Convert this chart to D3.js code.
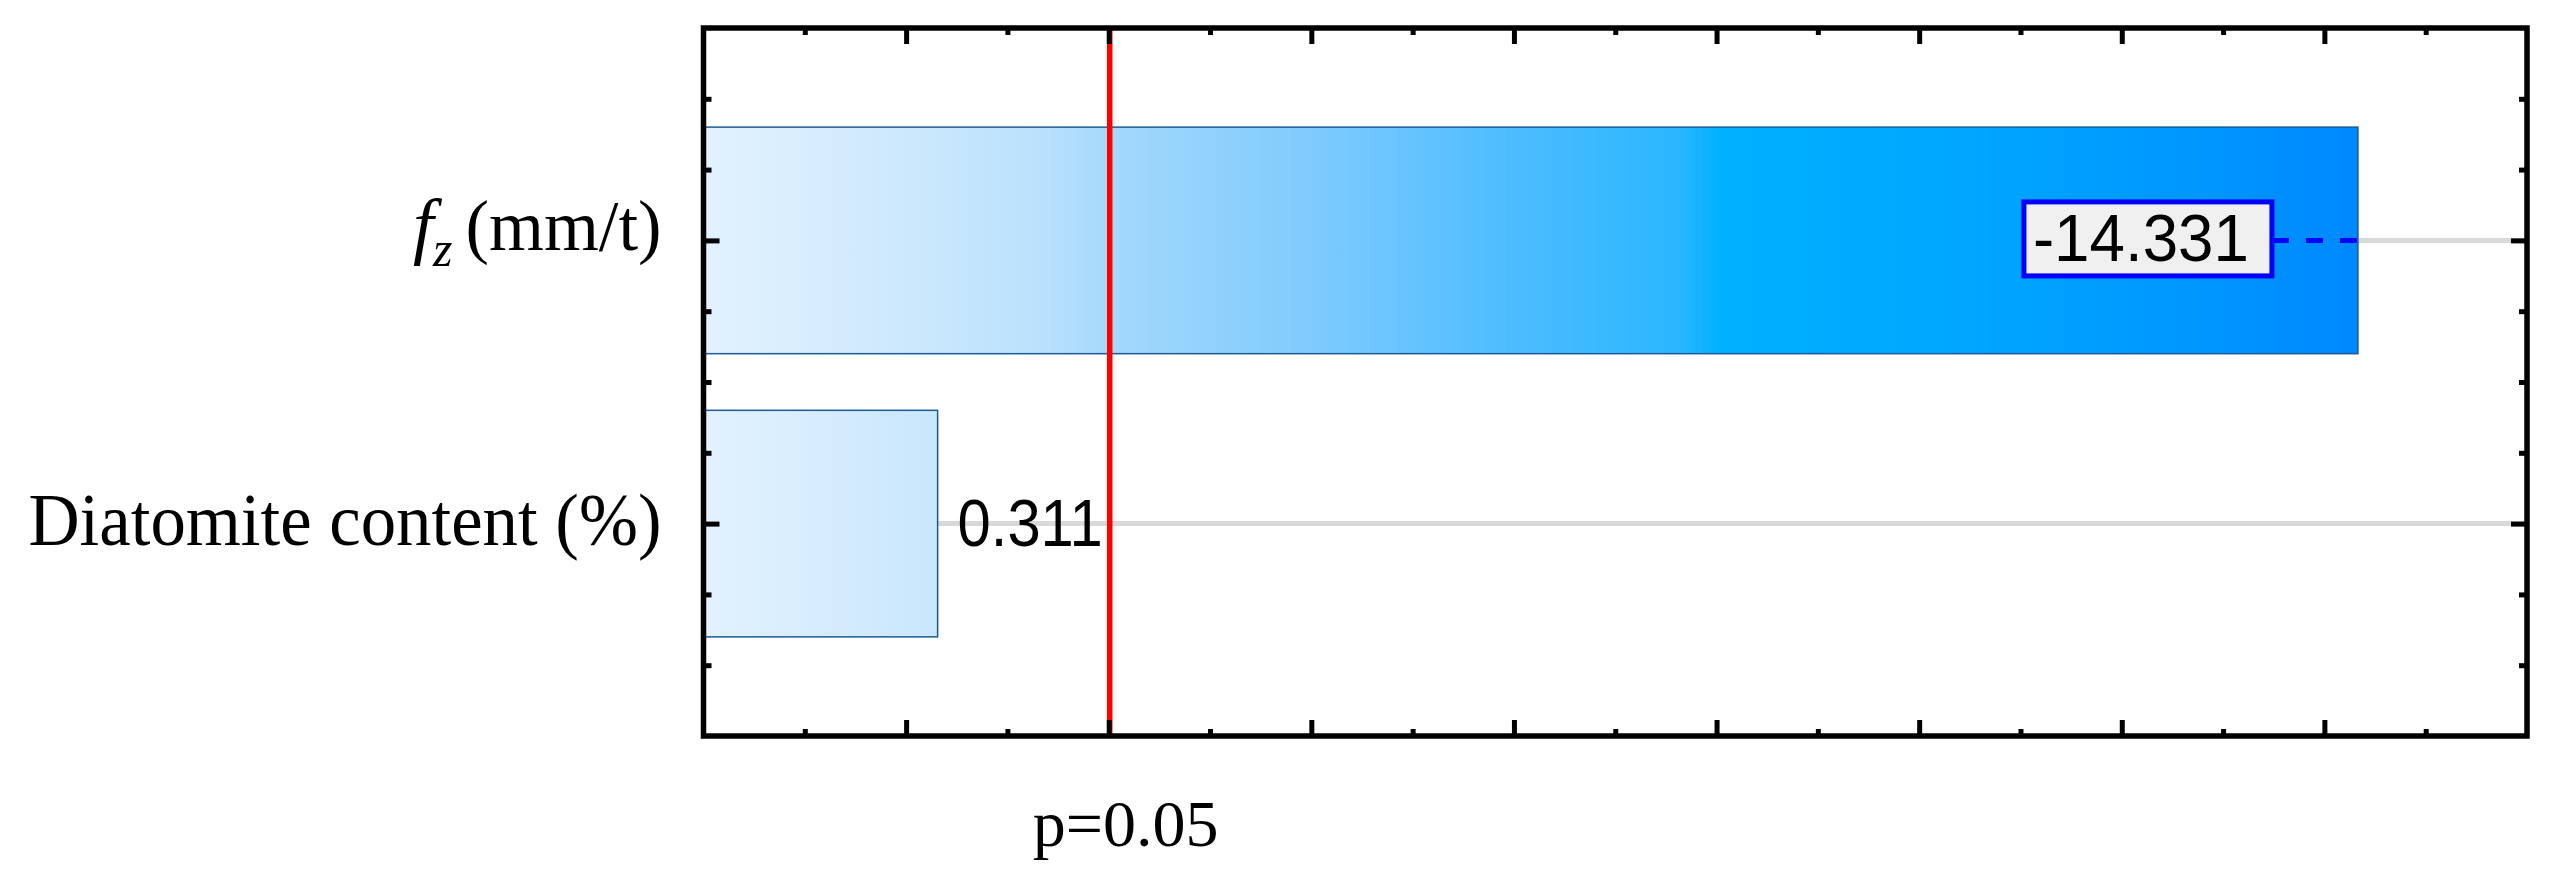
<!DOCTYPE html>
<html>
<head>
<meta charset="utf-8">
<script src="https://cdn.jsdelivr.net/npm/d3@7"></script>
<style>
  html, body { margin: 0; padding: 0; background: #ffffff; }
  svg { display: block; }
</style>
</head>
<body>
<svg id="chart" width="2560" height="888"></svg>
<script>
// ---------------- data ----------------
const categories = ["fz", "Diatomite content (%)"];
const effects = [-14.331, 0.311];
const valueLabels = ["-14.331", "0.311"];
const criticalValue = 2.01;
const criticalLabel = "p=0.05";
const xDomain = [-2, 16];
const xMajorTicks = [0, 2, 4, 6, 8, 10, 12, 14];
const xMinorTicks = [-1, 1, 3, 5, 7, 9, 11, 13, 15];
const yDomain = [0.25, 2.75];
const yMajorTicks = [1, 2];
const yMinorTicks = [0.5, 0.75, 1.25, 1.5, 1.75, 2.25, 2.5];

// ---------------- layout ----------------
const W = 2560, H = 888;
const plot = { left: 703.5, right: 2527, top: 28, bottom: 736 };
const svg = d3.select("#chart");
svg.append("rect").attr("width", W).attr("height", H).attr("fill", "#fff");

const x = d3.scaleLinear().domain(xDomain).range([plot.left, plot.right]);
const y = d3.scaleLinear().domain(yDomain).range([plot.top, plot.bottom]);
const catPos = i => y(i + 1);
const barHalf = (y(1.4) - y(1));

// gradient (user space across the plot)
const defs = svg.append("defs");
const maxAbs = d3.max(effects, d => Math.abs(d));
const grad = defs.append("linearGradient")
  .attr("id", "barGrad").attr("gradientUnits", "userSpaceOnUse")
  .attr("x1", x(xDomain[0])).attr("x2", x(maxAbs)).attr("y1", 0).attr("y2", 0);
[
  [0, "#e2f2fe"], [0.1, "#d1eafd"], [0.2, "#bbe2fc"], [0.25, "#a3d8fc"],
  [0.365, "#80cbfd"], [0.49, "#4cbcff"], [0.59, "#2bb6ff"], [0.615, "#00b0ff"],
  [0.745, "#00a8ff"], [0.895, "#0098ff"], [1, "#0088ff"]
].forEach(([o, c]) => grad.append("stop").attr("offset", o).attr("stop-color", c));

// grid lines at category centers
svg.append("g").selectAll("line").data(categories).join("line")
  .attr("x1", plot.left).attr("x2", plot.right)
  .attr("y1", (d, i) => catPos(i)).attr("y2", (d, i) => catPos(i))
  .attr("stroke", "#d9d9d9").attr("stroke-width", 5);

// bars
svg.append("g").selectAll("rect").data(effects).join("rect")
  .attr("x", x(xDomain[0]))
  .attr("width", d => x(Math.abs(d)) - x(xDomain[0]))
  .attr("y", (d, i) => catPos(i) - barHalf)
  .attr("height", barHalf * 2)
  .attr("fill", "url(#barGrad)")
  .attr("stroke", "#1b5a96").attr("stroke-width", 1.5);

// critical line
svg.append("line")
  .attr("x1", x(criticalValue)).attr("x2", x(criticalValue))
  .attr("y1", plot.top).attr("y2", plot.bottom)
  .attr("stroke", "#ff0000").attr("stroke-width", 5.5);

// axes ticks (inward) via d3 axes
function tickAxis(axisFn, scale, vals, size, transform) {
  const g = svg.append("g").attr("transform", transform)
    .call(axisFn(scale).tickValues(vals).tickSize(size).tickSizeOuter(0).tickFormat(""));
  g.select(".domain").remove();
  g.selectAll(".tick line").attr("stroke", "#000").attr("stroke-width", 5);
  return g;
}
tickAxis(d3.axisBottom, x, xMajorTicks, -16, `translate(0,${plot.bottom})`);
tickAxis(d3.axisBottom, x, xMinorTicks, -7, `translate(0,${plot.bottom})`);
tickAxis(d3.axisTop, x, xMajorTicks, -16, `translate(0,${plot.top})`);
tickAxis(d3.axisTop, x, xMinorTicks, -7, `translate(0,${plot.top})`);
tickAxis(d3.axisLeft, y, yMajorTicks, -16, `translate(${plot.left},0)`);
tickAxis(d3.axisLeft, y, yMinorTicks, -8, `translate(${plot.left},0)`);
tickAxis(d3.axisRight, y, yMajorTicks, -16, `translate(${plot.right},0)`);
tickAxis(d3.axisRight, y, yMinorTicks, -8, `translate(${plot.right},0)`);

// frame
svg.append("rect")
  .attr("x", plot.left).attr("y", plot.top)
  .attr("width", plot.right - plot.left).attr("height", plot.bottom - plot.top)
  .attr("fill", "none").attr("stroke", "#000").attr("stroke-width", 5.5);

// category labels
const serif = "'Liberation Serif', 'Times New Roman', serif";
const labelRight = plot.left - 42;
// f_z (mm/t)
const fzY = catPos(0) + 10;
svg.append("text")
  .attr("x", labelRight).attr("y", fzY)
  .attr("text-anchor", "end").attr("font-family", serif).attr("font-size", 72).attr("fill", "#000")
  .attr("textLength", 196).attr("lengthAdjust", "spacingAndGlyphs")
  .text("(mm/t)");
svg.append("text")
  .attr("x", labelRight - 209).attr("y", fzY + 16)
  .attr("text-anchor", "end").attr("font-family", serif).attr("font-style", "italic")
  .attr("font-size", 50).attr("fill", "#000")
  .text("z");
svg.append("text")
  .attr("x", labelRight - 228).attr("y", fzY)
  .attr("text-anchor", "end").attr("font-family", serif).attr("font-style", "italic")
  .attr("font-size", 74).attr("fill", "#000")
  .text("f");
// Diatomite content (%)
svg.append("text")
  .attr("x", labelRight).attr("y", catPos(1) + 21)
  .attr("text-anchor", "end").attr("font-family", serif).attr("font-size", 74).attr("fill", "#000")
  .attr("textLength", 633).attr("lengthAdjust", "spacingAndGlyphs")
  .text(categories[1]);

// value labels
const sans = "'Liberation Sans', Arial, sans-serif";
// small bar: plain label to the right
svg.append("text")
  .attr("x", x(Math.abs(effects[1])) + 20).attr("y", catPos(1) + 22)
  .attr("font-family", sans).attr("font-size", 67).attr("fill", "#000")
  .attr("textLength", 145).attr("lengthAdjust", "spacingAndGlyphs")
  .text(valueLabels[1]);

// big bar: boxed label with dashed leader
const endX = x(Math.abs(effects[0]));
const boxW = 248, boxH = 74;
const boxRight = endX - 86;
const cy = catPos(0);
svg.append("line")
  .attr("x1", boxRight).attr("x2", endX).attr("y1", cy).attr("y2", cy)
  .attr("stroke", "#0000ff").attr("stroke-width", 5).attr("stroke-dasharray", "17,17");
svg.append("rect")
  .attr("x", boxRight - boxW).attr("y", cy - boxH / 2 - 1.5)
  .attr("width", boxW).attr("height", boxH)
  .attr("fill", "#f0f0f0").attr("stroke", "#0000ff").attr("stroke-width", 5);
svg.append("text")
  .attr("x", boxRight - boxW / 2 - 7).attr("y", cy + 20.5)
  .attr("text-anchor", "middle")
  .attr("font-family", sans).attr("font-size", 67).attr("fill", "#000")
  .attr("textLength", 216).attr("lengthAdjust", "spacingAndGlyphs")
  .text(valueLabels[0]);

// critical label
svg.append("text")
  .attr("x", x(criticalValue) + 16).attr("y", 846)
  .attr("text-anchor", "middle").attr("font-family", serif).attr("font-size", 66).attr("fill", "#000")
  .text(criticalLabel);
</script>
</body>
</html>
